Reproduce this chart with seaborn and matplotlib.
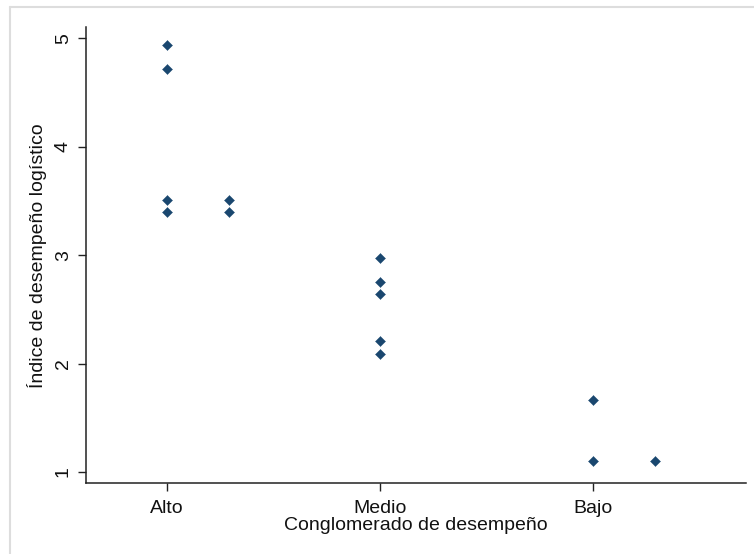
import matplotlib
matplotlib.use("Agg")
import matplotlib.pyplot as plt
from matplotlib.lines import Line2D
import seaborn as sns
import pandas as pd

# Performance cluster of each observation and its logistics index
categories = ["Alto", "Medio", "Bajo"]
cluster = ["Alto", "Alto", "Alto", "Alto", "Alto", "Alto",
           "Medio", "Medio", "Medio", "Medio", "Medio",
           "Bajo", "Bajo", "Bajo"]
index_values = [4.94, 4.72, 3.51, 3.40, 3.51, 3.40,
                2.97, 2.75, 2.64, 2.21, 2.09,
                1.66, 1.10, 1.10]
# Horizontal stacking column within the dot plot (0 = on the category line)
stack_column = [0, 0, 0, 0, 1, 1,
                0, 0, 0, 0, 0,
                0, 0, 1]
y_ticks = [1, 2, 3, 4, 5]

df = pd.DataFrame({"cluster": cluster, "value": index_values, "col": stack_column})
df["xpos"] = df["cluster"].map({c: i for i, c in enumerate(categories)}) + df["col"] * 0.29

sns.set_theme(style="ticks")
plt.rcParams["font.family"] = ["Liberation Sans", "DejaVu Sans"]

fig = plt.figure(figsize=(7.54, 5.54), dpi=100)
ax = fig.add_axes([0.1137, 0.1276, 0.8757, 0.8228])

navy = "#1a476f"
sns.scatterplot(data=df, x="xpos", y="value", ax=ax, marker="D", s=26,
                color=navy, edgecolor=navy, linewidth=0.3, legend=False)

ax.set_xlim(-0.382, 2.716)
ax.set_ylim(0.896, 5.10)
ax.set_xticks(range(len(categories)))
ax.set_xticklabels(categories)
ax.set_yticks(y_ticks)
ax.set_yticklabels([str(t) for t in y_ticks], rotation=90, va="center")

ax.tick_params(axis="both", labelsize=14, length=6, width=1, color="#222222",
               labelcolor="#111111")
ax.tick_params(axis="x", pad=6)
ax.tick_params(axis="y", pad=4)
ax.set_xlabel("Conglomerado de desempeño", fontsize=14, color="#111111", labelpad=0)
ax.set_ylabel("Índice de desempeño logístico", fontsize=14, color="#111111", labelpad=6)

sns.despine(ax=ax)
for side in ("left", "bottom"):
    ax.spines[side].set_linewidth(1.1)
    ax.spines[side].set_color("#222222")

# Light outer frame of the graph region
x0 = 10 / 754
y0 = 1 - 7 / 554
fig.add_artist(Line2D([x0, 1], [y0, y0], transform=fig.transFigure, color="#dddddd", lw=1.5))
fig.add_artist(Line2D([x0, x0], [0, y0], transform=fig.transFigure, color="#dddddd", lw=1.5))

fig.savefig("out.png", dpi=100, facecolor="white")
